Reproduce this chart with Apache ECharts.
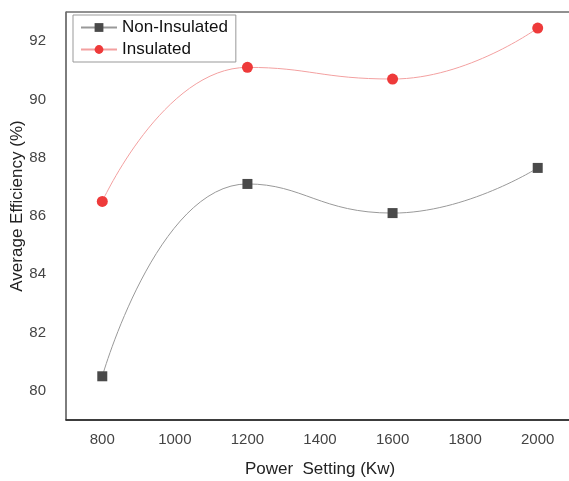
<!DOCTYPE html>
<html>
<head>
<meta charset="utf-8">
<script src="https://cdn.jsdelivr.net/npm/echarts@6/dist/echarts.min.js"></script>
<style>
  html, body { margin: 0; padding: 0; background: #fff; }
  #chart { width: 569px; height: 481px; }
</style>
</head>
<body>
<div id="chart"></div>
<script>
// power settings (Kw)
const powerSettings = [800, 1200, 1600, 2000]
// average efficiency (%)
const nonInsulated = [80.5, 87.1, 86.1, 87.65]
const insulated = [86.5, 91.1, 90.7, 92.45]

const fontFamily = '"Liberation Sans", Arial, sans-serif'

const chart = echarts.init(document.getElementById('chart'))

function pairs(values) {
  return powerSettings.map((p, i) => [p, values[i]])
}

chart.setOption({
  animation: false,
  grid: {
    left: 66,
    top: 12,
    width: 508,
    height: 408,
    outerBoundsMode: 'none',
    containLabel: false,
    show: true,
    borderColor: '#222',
    borderWidth: 1
  },
  legend: {
    orient: 'vertical',
    left: 73,
    top: 15,
    padding: [4, 8, 4, 7],
    itemGap: 5,
    itemWidth: 36,
    itemHeight: 11,
    borderColor: '#999',
    borderWidth: 1,
    textStyle: { fontFamily, fontSize: 17, color: '#111' },
    data: ['Non-Insulated', 'Insulated']
  },
  xAxis: {
    type: 'value',
    min: 700,
    max: 2100,
    interval: 100,
    name: 'Power  Setting (Kw)',
    nameLocation: 'middle',
    nameGap: 41,
    nameMoveOverlap: false,
    nameTextStyle: { fontFamily, fontSize: 17, color: '#222' },
    axisLine: { show: true, lineStyle: { color: '#222', width: 1.5 } },
    axisTick: { show: false },
    splitLine: { show: false },
    axisLabel: {
      margin: 12,
      fontFamily,
      fontSize: 15,
      color: '#444',
      formatter: v => (v % 200 === 0 && v >= 800 && v <= 2000) ? String(v) : ''
    }
  },
  yAxis: {
    type: 'value',
    min: 79,
    max: 93,
    interval: 1,
    name: 'Average Efficiency (%)',
    nameLocation: 'middle',
    nameGap: 40,
    nameMoveOverlap: false,
    nameTextStyle: { fontFamily, fontSize: 17, color: '#222', padding: [0, 0, 0, 20] },
    axisLine: { show: true, lineStyle: { color: '#777', width: 1.5 } },
    axisTick: { show: false },
    splitLine: { show: false },
    axisLabel: {
      margin: 20,
      fontFamily,
      fontSize: 15,
      color: '#444',
      formatter: v => (v % 2 === 0 && v >= 80 && v <= 92) ? String(v) : ''
    }
  },
  series: [{
    name: 'Non-Insulated',
    type: 'line',
    smooth: 0.5,
    symbol: 'rect',
    symbolSize: 10,
    data: pairs(nonInsulated),
    itemStyle: { color: '#4a4a4a' },
    lineStyle: { color: '#999', width: 1 }
  }, {
    name: 'Insulated',
    type: 'line',
    smooth: 0.5,
    symbol: 'circle',
    symbolSize: 11,
    data: pairs(insulated),
    itemStyle: { color: '#ee3a3a' },
    lineStyle: { color: '#f3a0a0', width: 1 }
  }]
})
</script>
</body>
</html>
